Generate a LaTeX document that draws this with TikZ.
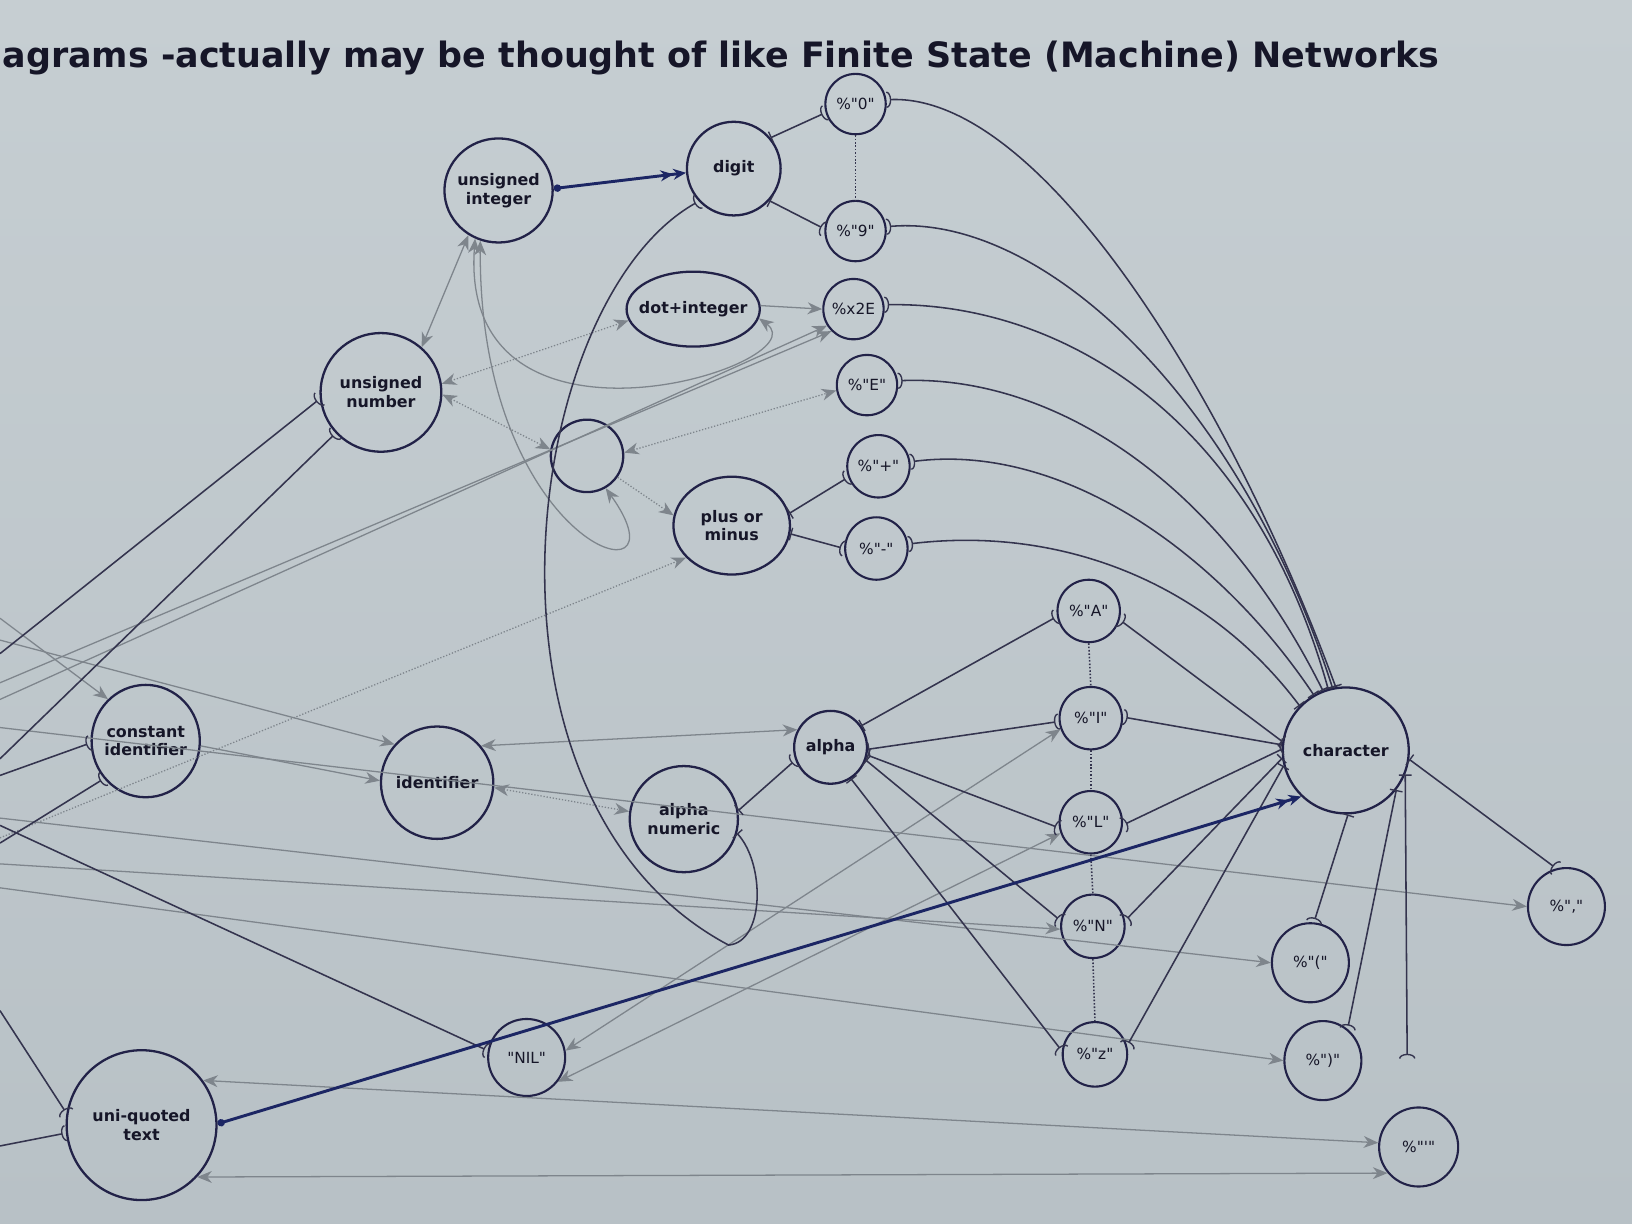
\documentclass[tikz,border=0pt]{standalone}
\usepackage{fontspec}
\usepackage{graphicx}
\setmainfont{DejaVu Sans}
\newfontfamily\pcfont{DejaVu Sans}
\usetikzlibrary{arrows.meta,shapes.geometric}
\definecolor{bgtop}{RGB}{198,206,210}
\definecolor{bgbot}{RGB}{184,193,198}
\definecolor{ink}{RGB}{34,34,72}
\definecolor{txt}{RGB}{22,22,40}
\definecolor{ln}{RGB}{52,52,78}
\definecolor{gl}{RGB}{126,133,140}
\definecolor{thk}{RGB}{28,38,100}
\tikzset{
  Sk/.tip={Arc Barb[reversed,width=9pt,length=2.6pt,line width=0.75pt]},
  Tk/.tip={Bar[width=7pt,line width=0.75pt]},
  GA/.tip={Stealth[length=8pt,width=6.5pt,inset=2.5pt]},
}
\begin{document}
\begin{tikzpicture}[x=0.02cm,y=-0.02cm,
  st/.style={draw=ink,line width=1.25pt,circle,inner sep=-14pt,align=center,
    font=\bfseries\fontsize{8.7}{10.2}\selectfont,text=txt},
  el/.style={st,ellipse},
  pc/.style={draw=ink,line width=1.15pt,circle,inner sep=-10pt,
    font=\pcfont\fontsize{8.4}{10}\selectfont,text=txt},
  lk/.style={draw=ln,line width=0.85pt,{Tk}-{Sk}},
  lkin/.style={draw=ln,line width=0.85pt,-{Sk}},
  dk/.style={draw=ln,line width=0.85pt,densely dotted},
  thick link/.style={draw=thk,line width=1.6pt,{Circle[length=4pt]}-{Stealth[length=7pt,width=6pt]Stealth[length=7pt,width=6pt]}},
  gr/.style={draw=gl,line width=0.7pt},
]
% background
\shade[top color=bgtop,bottom color=bgbot] (0,0) rectangle (1568,1176);
\useasboundingbox (0,0) rectangle (1568,1176);

% title
\node[anchor=west,inner sep=0pt,text=txt] (title) at (2,56)
  {\resizebox{27.62cm}{!}{\bfseries agrams -actually may be thought of like Finite State (Machine) Networks}};

% nodes
\node[el,minimum width=2.08cm,minimum height=2.0cm] (uint) at (479,183) {unsigned\\integer};
\node[st,minimum size=1.8cm] (digit) at (705,162) {digit};
\node[pc,minimum size=1.16cm] (p0) at (822,100) {\%"0"};
\node[pc,minimum size=1.16cm] (p9) at (822,222) {\%"9"};
\node[el,minimum width=2.56cm,minimum height=1.44cm] (dotint) at (666,297) {dot+integer};
\node[pc,minimum size=1.16cm] (x2E) at (820,297) {\%x2E};
\node[pc,minimum size=1.16cm] (pE) at (833,370) {\%"E"};
\node[el,minimum width=2.32cm,minimum height=2.28cm] (unum) at (366,377) {unsigned\\number};
\node[st,minimum size=1.32cm] (empty) at (564,438) {};
\node[el,minimum width=2.24cm,minimum height=1.88cm] (pm) at (703,505) {plus or\\minus};
\node[pc,minimum size=1.2cm] (pplus) at (844,448) {\%"+"};
\node[pc,minimum size=1.2cm] (pminus) at (842,527) {\%"-"};
\node[pc,minimum size=1.2cm] (pA) at (1046,587) {\%"A"};
\node[pc,minimum size=1.2cm] (pI) at (1048,690) {\%"I"};
\node[pc,minimum size=1.2cm] (pL) at (1048,790) {\%"L"};
\node[pc,minimum size=1.22cm] (pN) at (1050,890) {\%"N"};
\node[pc,minimum size=1.24cm] (pz) at (1052,1013) {\%"z"};
\node[st,minimum size=2.42cm] (char) at (1293,721) {character};
\node[st,minimum size=1.4cm] (alpha) at (798,718) {alpha};
\node[el,minimum width=2.08cm,minimum height=2.04cm] (alnum) at (657,787) {alpha\\numeric};
\node[el,minimum width=2.16cm,minimum height=2.16cm] (ident) at (420,752) {identifier};
\node[el,minimum width=2.08cm,minimum height=2.16cm] (cid) at (140,712) {constant\\identifier};
\node[pc,ellipse,minimum width=1.48cm,minimum height=1.52cm] (lpar) at (1259,925) {\%"("};
\node[pc,ellipse,minimum width=1.48cm,minimum height=1.52cm] (rpar) at (1271,1019) {\%")"};
\node[pc,minimum size=1.48cm] (comma) at (1505,871) {\%","};
\node[pc,minimum size=1.52cm] (apos) at (1363,1102) {\%"'"};
\node[pc,minimum size=1.48cm] (nil) at (506,1016) {"NIL"};
\node[st,minimum size=2.88cm] (uqt) at (136,1081) {uni-quoted\\text};

% free ends at the left edge and elsewhere
\coordinate (e1) at (0,628);
\coordinate (e2) at (0,729);
\coordinate (e3) at (0,745);
\coordinate (e4) at (0,810);
\coordinate (e5) at (0,793);
\coordinate (e6) at (0,971);
\coordinate (e7) at (0,1101);
\coordinate (l1) at (0,594);
\coordinate (l2) at (0,615);
\coordinate (l3) at (0,656);
\coordinate (l4) at (0,672);
\coordinate (l5) at (0,805);
\coordinate (l6) at (0,699);
\coordinate (l7) at (0,830);
\coordinate (l8) at (0,786);
\coordinate (l9) at (0,853);
\coordinate (vend) at (1352,1017);

% grey connectors
\draw[gr,{GA}-{GA}] (uint.236) -- (unum.48);
\draw[gr,{GA}-{GA}] (dotint.-8) .. controls (790,350) and (440,460) .. (uint.244);
\draw[gr,{GA}-{GA}] (empty.-60) .. controls (665,585) and (460,530) .. (uint.250);
\draw[gr,densely dotted,{GA}-{GA}] (unum.8) -- (dotint.190);
\draw[gr,densely dotted,{GA}-{GA}] (unum.-2) -- (empty.170);
\draw[gr,-{GA}] (dotint.3) -- (x2E.180);
\draw[gr,-{GA}] (l3) -- (x2E.225);
\draw[gr,-{GA}] (l4) -- (x2E.212);
\draw[gr,densely dotted,{GA}-{GA}] (empty.5) -- (pE.190);
\draw[gr,densely dotted,-{GA}] (empty.-35) -- (pm.170);
\draw[gr,densely dotted,-{GA}] (l5) -- (pm.215);
\draw[gr,-{GA}] (l1) -- (cid.132);
\draw[gr,-{GA}] (l2) -- (ident.138);
\draw[gr,-{GA}] (cid.-5) -- (ident.178);
\draw[gr,-{GA}] (l6) -- (comma.180);
\draw[gr,{GA}-{GA}] (ident.40) -- (alpha.152);
\draw[gr,densely dotted,{GA}-{GA}] (ident.-5) -- (alnum.172);
\draw[gr,-{GA}] (l7) -- (pN.185);
\draw[gr,-{GA}] (l8) -- (lpar.180);
\draw[gr,-{GA}] (l9) -- (rpar.180);
\draw[gr,{GA}-{GA}] (nil.10) -- (pI.200);
\draw[gr,{GA}-{GA}] (nil.-38) -- (pL.200);
\draw[gr,{GA}-{GA}] (uqt.36) -- (apos.174);
\draw[gr,{GA}-{GA}] (uqt.-43) -- (apos.220);

% dark connectors
\draw[lk] (digit.40) -- (p0.196);
\draw[lk] (digit.-42) -- (p9.176);
\draw[dk] (p0.south) -- (p9.north);
\draw[lk] (char.99) .. controls (1180,380) and (1000,90) .. (p0.8);
\draw[lk] (char.102) .. controls (1190,380) and (1000,205) .. (p9.8);
\draw[lk] (char.106) .. controls (1200,390) and (1010,290) .. (x2E.8);
\draw[lk] (char.111) .. controls (1170,460) and (1010,360) .. (pE.8);
\draw[lk] (char.120) .. controls (1170,530) and (1020,425) .. (pplus.8);
\draw[lk] (char.136) .. controls (1160,560) and (1020,505) .. (pminus.8);
\draw[lk] (pm.12) -- (pplus.200);
\draw[lk] (pm.-8) -- (pminus.180);
\draw[lk] (alpha.35) -- (pA.190);
\draw[lk] (alpha.-3) -- (pI.186);
\draw[lk] (alpha.-12) -- (pL.190);
\draw[lk] (alpha.-20) -- (pN.170);
\draw[lk] (alpha.-57) -- (pz.174);
\draw[dk] (pA.south) -- (pI.north);
\draw[dk] (pI.south) -- (pL.north);
\draw[dk] (pL.south) -- (pN.north);
\draw[dk] (pN.south) -- (pz.north);
\draw[lk] (char.172) -- (pA.-16);
\draw[lk] (char.175) -- (pI.2);
\draw[lk] (char.179) -- (pL.-5);
\draw[lk] (char.187) -- (pN.10);
\draw[lk] (char.194) -- (pz.15);
\draw[lk] (char.-88) -- (lpar.85);
\draw[lk] (char.-38) -- (rpar.52);
\draw[lk] (char.-22) -- (vend);
\draw[lk] (char.-8) -- (comma.105);
\draw[lk] (alnum.9) -- (alpha.200);
\draw[lk] (alnum.-15) .. controls (735,830) and (735,905) .. (700,908)
   .. controls (440,770) and (500,290) .. (digit.223);
\draw[lkin] (e1) -- (unum.186);
\draw[lkin] (e2) -- (unum.222);
\draw[lkin] (e3) -- (cid.182);
\draw[lkin] (e4) -- (cid.222);
\draw[lkin] (e5) -- (nil.170);
\draw[lkin] (e6) -- (uqt.171);
\draw[lkin] (e7) -- (uqt.186);

% thick connectors
\draw[thick link] (uint.2) -- (digit.185);
\draw[thick link] (uqt.1) -- (char.226);
\end{tikzpicture}
\end{document}
